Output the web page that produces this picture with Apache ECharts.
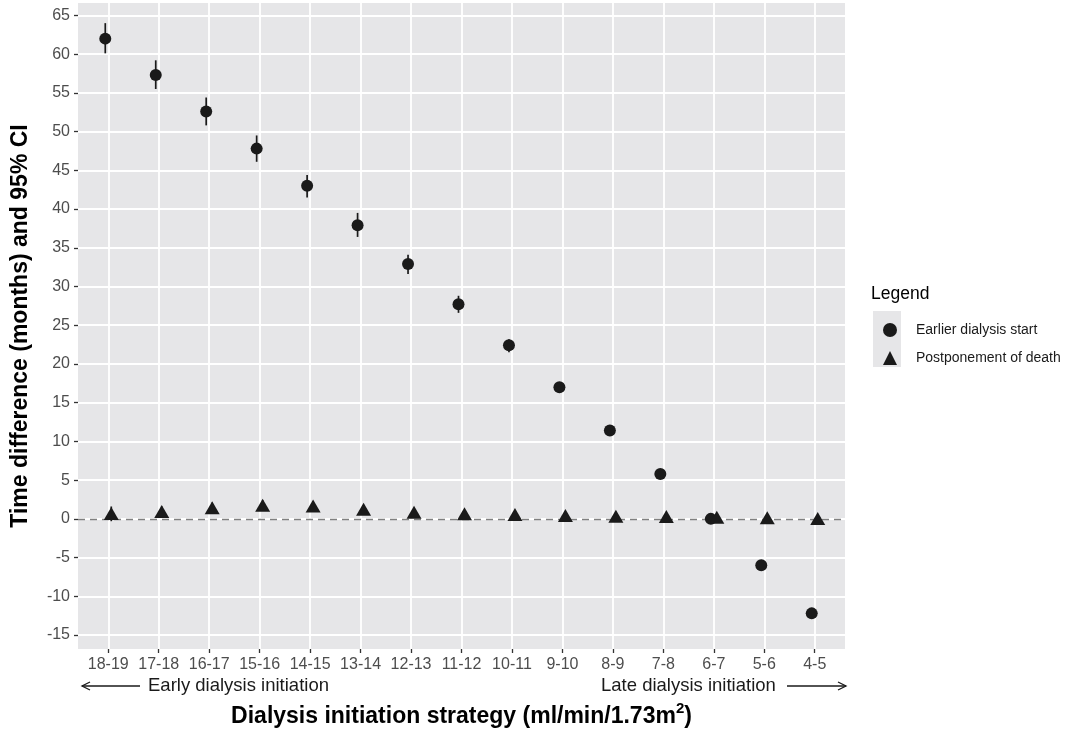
<!DOCTYPE html>
<html>
<head>
<meta charset="utf-8">
<title>Dialysis initiation strategy</title>
<script src="https://cdn.jsdelivr.net/npm/echarts@6/dist/echarts.min.js"></script>
<style>
  html, body { margin: 0; padding: 0; background: #fff; }
  #chart { width: 1075px; height: 729px; }
</style>
</head>
<body>
<div id="chart"></div>
<script>
// categories (eGFR band at dialysis start)
var categories = ['18-19', '17-18', '16-17', '15-16', '14-15', '13-14', '12-13', '11-12',
  '10-11', '9-10', '8-9', '7-8', '6-7', '5-6', '4-5'];

// Earlier dialysis start (months) with 95% CI
var earlierStart = [62.0, 57.3, 52.6, 47.8, 43.0, 37.9, 32.9, 27.7, 22.4, 17.0, 11.4, 5.8, 0.0, -6.0, -12.2];
var earlierLow = [60.1, 55.5, 50.8, 46.1, 41.5, 36.4, 31.6, 26.6, 21.5, 16.6, 11.1, 5.6, -0.2, -6.2, -12.4];
var earlierHigh = [64.0, 59.2, 54.4, 49.5, 44.4, 39.5, 34.1, 28.8, 23.2, 17.4, 11.7, 6.0, 0.2, -5.8, -12.0];

// Postponement of death (months) with 95% CI
var postponeDeath = [0.7, 0.95, 1.45, 1.75, 1.65, 1.25, 0.85, 0.65, 0.55, 0.45, 0.35, 0.3, 0.2, 0.15, 0.05];
var postponeLow = [-0.3, 0.3, 0.8, 1.1, 1.0, 0.7, 0.4, 0.3, 0.25, 0.2, 0.15, 0.1, 0.05, 0.0, -0.05];
var postponeHigh = [1.6, 1.6, 2.1, 2.4, 2.3, 1.8, 1.3, 1.0, 0.85, 0.7, 0.55, 0.5, 0.35, 0.3, 0.15];

var yTicks = [-15, -10, -5, 0, 5, 10, 15, 20, 25, 30, 35, 40, 45, 50, 55, 60, 65];
var xTicks = categories.map(function (c, i) { return i; });

var font = '"Liberation Sans", Arial, sans-serif';
var chart = echarts.init(document.getElementById('chart'));

function errorBars(low, high, dx) {
  return {
    type: 'custom',
    silent: true,
    z: 3,
    renderItem: function (params, api) {
      var x = api.value(0);
      var lo = api.coord([x, api.value(1)]);
      var hi = api.coord([x, api.value(2)]);
      return {
        type: 'line',
        shape: { x1: lo[0] + dx, y1: lo[1], x2: hi[0] + dx, y2: hi[1] },
        style: { stroke: '#1a1a1a', lineWidth: 1.7 }
      };
    },
    data: low.map(function (v, i) { return [i, v, high[i]]; })
  };
}

chart.setOption({
  animation: false,
  textStyle: { fontFamily: font },
  grid: {
    left: 78, right: 230, top: 3, bottom: 80,
    outerBoundsMode: 'none',
    containLabel: false,
    show: true, backgroundColor: '#e6e6e8', borderWidth: 0
  },
  xAxis: {
    type: 'value',
    min: -0.6,
    max: 14.6,
    name: 'Dialysis initiation strategy (ml/min/1.73m{sup|2})',
    nameLocation: 'middle',
    nameGap: 52,
    nameTextStyle: {
      fontSize: 23, fontWeight: 'bold', color: '#000',
      rich: { sup: { fontSize: 15, fontWeight: 'bold', color: '#000', padding: [0, 0, 16, 0] } }
    },
    axisLine: { show: false, onZero: false },
    axisTick: { show: true, length: 4, customValues: xTicks, lineStyle: { color: '#333', width: 1.3 } },
    axisLabel: {
      customValues: xTicks, margin: 8, fontSize: 16, color: '#4d4d4d',
      formatter: function (v) { return categories[Math.round(v)]; }
    },
    splitLine: { show: true, lineStyle: { color: '#fff', width: 1.8 } }
  },
  yAxis: {
    type: 'value',
    min: -16.8,
    max: 66.6,
    name: 'Time difference (months) and 95% CI',
    nameLocation: 'middle',
    nameGap: 46,
    nameRotate: 90,
    nameTextStyle: { fontSize: 23, fontWeight: 'bold', color: '#000' },
    axisLine: { show: false, onZero: false },
    axisTick: { show: true, length: 4, customValues: yTicks, lineStyle: { color: '#333', width: 1.3 } },
    axisLabel: { customValues: yTicks, margin: 8, fontSize: 16, color: '#4d4d4d' },
    splitLine: { show: true, lineStyle: { color: '#fff', width: 1.8 } }
  },
  legend: {
    orient: 'vertical',
    left: 878,
    top: 318,
    itemWidth: 14,
    itemHeight: 14,
    itemGap: 14,
    textStyle: { fontSize: 14, color: '#1a1a1a', padding: [0, 0, 0, 14] },
    data: [
      { name: 'Earlier dialysis start', icon: 'circle' },
      { name: 'Postponement of death', icon: 'triangle' }
    ]
  },
  graphic: [
    { type: 'rect', left: 873, top: 311, shape: { width: 28, height: 56 }, style: { fill: '#e6e6e8' }, z: -1 },
    { type: 'text', left: 871, top: 285, style: { text: 'Legend', fontSize: 17.5, fill: '#000', fontFamily: font } },
    { type: 'text', left: 148, top: 676, style: { text: 'Early dialysis initiation', fontSize: 18.5, fill: '#1a1a1a', fontFamily: font } },
    { type: 'text', left: 601, top: 676, style: { text: 'Late dialysis initiation', fontSize: 18.5, fill: '#1a1a1a', fontFamily: font } },
    { type: 'line', shape: { x1: 82, y1: 686, x2: 140, y2: 686 }, style: { stroke: '#1a1a1a', lineWidth: 1.3 } },
    { type: 'polyline', shape: { points: [[90, 682], [82, 686], [90, 690]] }, style: { stroke: '#1a1a1a', lineWidth: 1.3, fill: null } },
    { type: 'line', shape: { x1: 787, y1: 686, x2: 846, y2: 686 }, style: { stroke: '#1a1a1a', lineWidth: 1.3 } },
    { type: 'polyline', shape: { points: [[838, 682], [846, 686], [838, 690]] }, style: { stroke: '#1a1a1a', lineWidth: 1.3, fill: null } }
  ],
  series: [
    {
      name: 'Earlier dialysis start',
      type: 'scatter',
      symbol: 'circle',
      symbolSize: 12,
      symbolOffset: [-3, 0],
      itemStyle: { color: '#1a1a1a', opacity: 1 },
      z: 4,
      data: earlierStart.map(function (v, i) { return [i, v]; }),
      markLine: {
        silent: true,
        symbol: 'none',
        label: { show: false },
        lineStyle: { color: '#808080', type: [7, 5], width: 1.4 },
        data: [{ yAxis: 0 }],
        z: 2
      }
    },
    errorBars(earlierLow, earlierHigh, -3),
    {
      name: 'Postponement of death',
      type: 'scatter',
      symbol: 'triangle',
      symbolSize: [15, 13],
      symbolOffset: [3, 0],
      itemStyle: { color: '#1a1a1a', opacity: 1 },
      z: 4,
      data: postponeDeath.map(function (v, i) { return [i, v]; })
    },
    errorBars(postponeLow, postponeHigh, 3)
  ]
});
</script>
</body>
</html>
